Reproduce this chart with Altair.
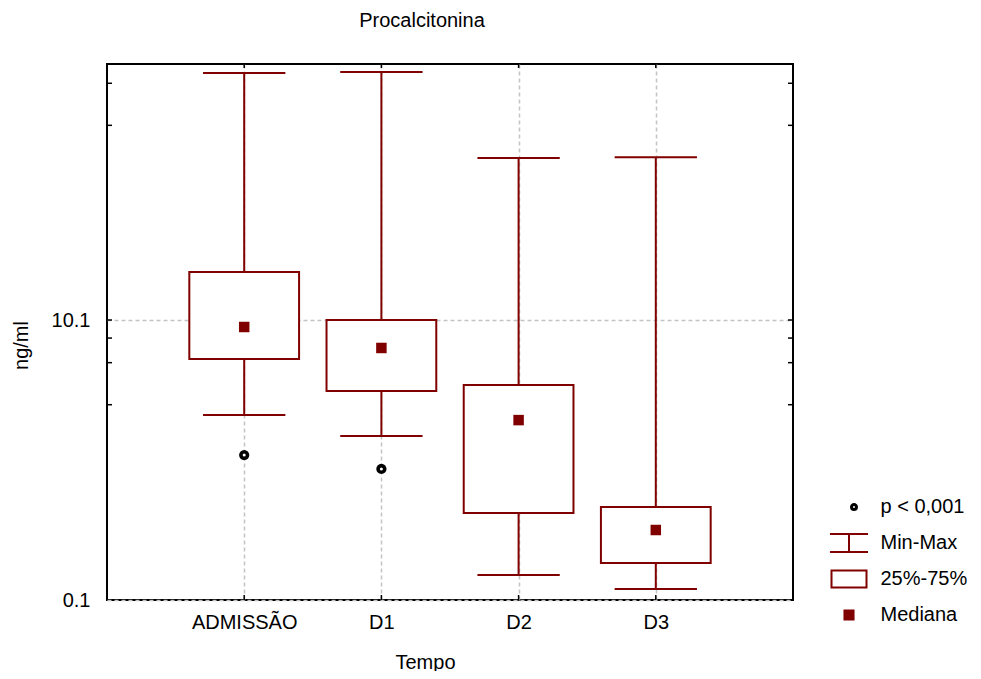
import altair as alt
import pandas as pd

categories = ["ADMISSÃO", "D1", "D2", "D3"]
positions = [1, 2, 3, 4]
maximum = [592, 602, 146, 148]
q3 = [22.3, 10.1, 3.46, 0.463]
median = [9.0, 6.37, 1.94, 0.317]
q1 = [5.31, 3.13, 0.42, 0.184]
minimum = [2.11, 1.49, 0.151, 0.12]
outlier_pos = [1, 2]
outlier_val = [1.09, 0.867]
y_minor_ticks = [2.5, 5, 7.5, 10.1, 250, 500]
y_labels = [0.1, 10.1]
legend_items = ["p < 0,001", "Min-Max", "25%-75%", "Mediana"]

W, H = 686, 536
RED = "#800000"
FONT = "Liberation Sans"
FS = 20

df = pd.DataFrame({"pos": positions, "cat": categories, "max": maximum, "q3": q3,
                   "med": median, "q1": q1, "min": minimum})
out_df = pd.DataFrame({"pos": outlier_pos, "v": outlier_val})
tick_df = pd.DataFrame({"v": y_minor_ticks})

label_expr = " : ".join(f"datum.value == {p} ? '{c}'" for p, c in zip(positions, categories)) + " : ''"

xs = alt.Scale(domain=[0, 5], nice=False, zero=False)
ys = alt.Scale(type="log", domain=[0.1, 687], nice=False)

x_axis = alt.Axis(values=positions, labelExpr=label_expr, grid=True, gridDash=[4, 3],
                  gridColor="#c4c4c4", gridWidth=1.5, ticks=False, tickSize=0, domain=False,
                  labelFontSize=FS, labelPadding=22, labelBaseline="middle", labelColor="black",
                  title="Tempo", titleX=318, titleY=62, titleBaseline="middle", titleAlign="center",
                  titleFontSize=FS, titleFontWeight="normal", titleColor="black")
y_axis = alt.Axis(values=y_labels, format=".1f", grid=True, gridDash=[4, 3],
                  gridColor="#c4c4c4", gridWidth=1.5, ticks=False, tickSize=0, domain=False,
                  labelFontSize=FS, labelPadding=17, labelColor="black",
                  title="ng/ml", titleX=-86, titleY=281, titleBaseline="middle", titleAlign="center",
                  titleFontSize=FS, titleFontWeight="normal", titleColor="black")

base = alt.Chart(df).transform_calculate(
    blo="datum.pos - 0.4", bhi="datum.pos + 0.4",
    clo="datum.pos - 0.3", chi="datum.pos + 0.3")

whisker = base.mark_rule(color=RED, strokeWidth=2).encode(
    x=alt.X("pos:Q", scale=xs, axis=x_axis),
    y=alt.Y("min:Q", scale=ys, axis=y_axis),
    y2="max:Q")

box = base.mark_rect(fill="white", stroke=RED, strokeWidth=2).encode(
    x=alt.X("blo:Q", scale=xs), x2="bhi:Q",
    y=alt.Y("q1:Q", scale=ys), y2="q3:Q")

cap_lo = base.mark_rule(color=RED, strokeWidth=2).encode(
    x=alt.X("clo:Q", scale=xs), x2="chi:Q", y=alt.Y("min:Q", scale=ys))
cap_hi = base.mark_rule(color=RED, strokeWidth=2).encode(
    x=alt.X("clo:Q", scale=xs), x2="chi:Q", y=alt.Y("max:Q", scale=ys))

med = base.mark_square(size=110, color=RED, opacity=1).encode(
    x=alt.X("pos:Q", scale=xs), y=alt.Y("med:Q", scale=ys))

outl = alt.Chart(out_df).mark_point(shape="circle", filled=False, stroke="black",
                                    strokeWidth=3.6, size=44, opacity=1).encode(
    x=alt.X("pos:Q", scale=xs), y=alt.Y("v:Q", scale=ys))

tick_l = alt.Chart(tick_df).mark_rule(color="black", strokeWidth=1.5).encode(
    y=alt.Y("v:Q", scale=ys), x=alt.value(0), x2=alt.value(5))
tick_r = alt.Chart(tick_df).mark_rule(color="black", strokeWidth=1.5).encode(
    y=alt.Y("v:Q", scale=ys), x=alt.value(W - 5), x2=alt.value(W))
tick_b = alt.Chart(df).mark_rule(color="black", strokeWidth=1.5).encode(
    x=alt.X("pos:Q", scale=xs), y=alt.value(H - 5), y2=alt.value(H))
tick_t = alt.Chart(df).mark_rule(color="black", strokeWidth=1.5).encode(
    x=alt.X("pos:Q", scale=xs), y=alt.value(0), y2=alt.value(4))

# every symbol path carries the same invisible extent so legend rows are evenly spaced
EXT = "M-1.086,-0.77M1.086,0.77"
paths = [
    EXT + "M0.115,0A0.171,0.171,0,1,0,0.457,0A0.171,0.171,0,1,0,0.115,0Z"
    "M0.172,0A0.114,0.114,0,1,0,0.4,0A0.114,0.114,0,1,0,0.172,0Z",
    EXT + "M-1.086,-0.51H1.086M0,-0.51V0.51M-1.086,0.51H1.086",
    EXT + "M-1,-0.486H1V0.486H-1Z",
    EXT + "M-0.26,-0.26H0.26V0.26H-0.26Z"
    "M-0.15,-0.15H0.15V0.15H-0.15Z"
    "M-0.05,-0.05H0.05V0.05H-0.05Z",
]
leg_df = pd.DataFrame({"item": legend_items})
legend_layer = alt.Chart(leg_df).transform_filter("false").mark_point(
    filled=False, opacity=1).encode(
    color=alt.Color("item:N", scale=alt.Scale(domain=legend_items, range=["black", RED, RED, RED]),
                    legend=alt.Legend(title=None)),
    shape=alt.Shape("item:N", scale=alt.Scale(domain=legend_items, range=paths),
                    legend=alt.Legend(title=None)))

chart = alt.layer(tick_l, tick_r, tick_b, tick_t, whisker, box, cap_lo, cap_hi, med, outl,
                  legend_layer).properties(
    width=W, height=H,
    title=alt.TitleParams("Procalcitonina", fontSize=FS, fontWeight="normal", font=FONT,
                          color="black", anchor="middle", dx=-28, offset=22, baseline="middle"),
    autosize=alt.AutoSizeParams(type="none"),
    padding={"left": 99, "top": 56, "right": 180, "bottom": 71},
).configure_view(stroke="black", strokeWidth=2).configure_axis(
    labelFont=FONT, titleFont=FONT).configure_legend(
    orient="none", legendX=723.5, legendY=424.5, symbolSize=1225, symbolStrokeWidth=2,
    symbolOpacity=1, labelFontSize=FS, labelFont=FONT, labelColor="black", labelOffset=13,
    rowPadding=0, padding=0, labelLimit=300)

chart.save("out.html", embed_options={"renderer": "svg", "actions": False})
